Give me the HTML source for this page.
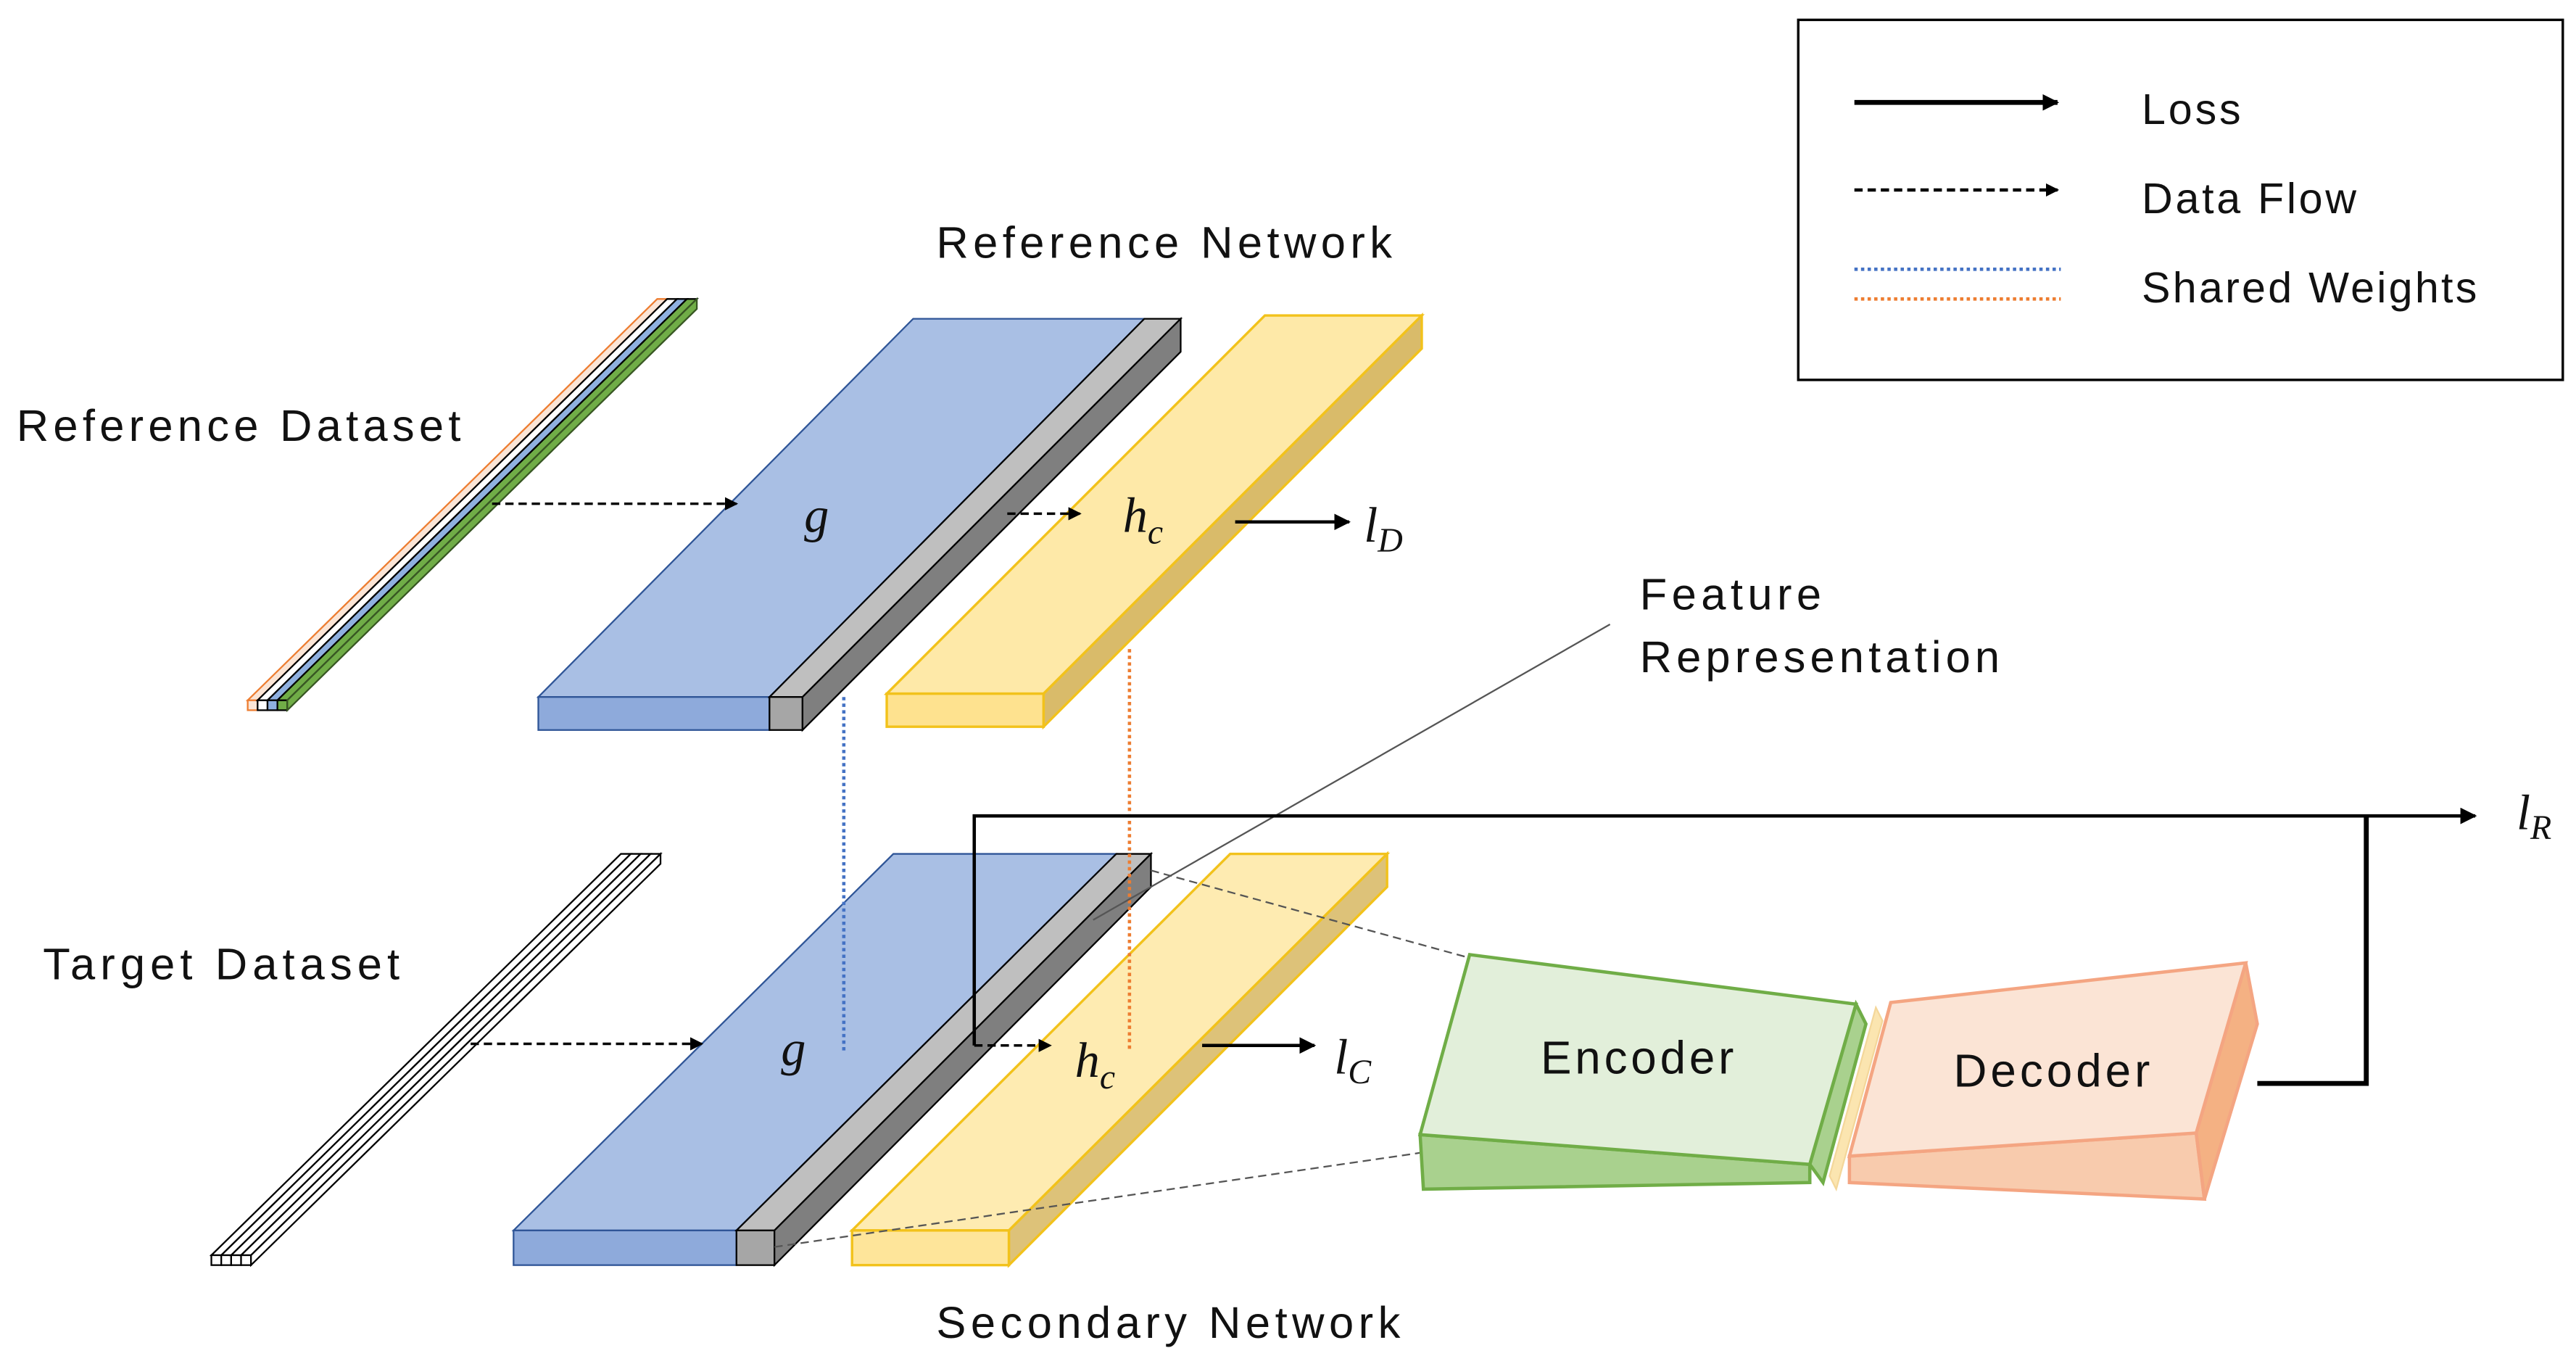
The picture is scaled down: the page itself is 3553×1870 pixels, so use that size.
<!DOCTYPE html>
<html><head><meta charset="utf-8">
<style>
html,body{margin:0;padding:0;background:#fff;}
svg{display:block;}
text{font-family:"Liberation Sans","Noto Sans CJK JP",sans-serif;fill:#111;}
.m{font-family:"Liberation Serif","DejaVu Serif",serif;font-style:italic;}
</style></head>
<body>
<svg width="3553" height="1870" viewBox="0 0 1560 821" xmlns="http://www.w3.org/2000/svg">
<defs>
<marker id="ah" markerWidth="8" markerHeight="8" refX="7" refY="4" orient="auto" markerUnits="userSpaceOnUse">
<path d="M0,0 L8,4 L0,8 z" fill="#000"/></marker>
<marker id="ah2" markerWidth="10" markerHeight="10" refX="9" refY="5" orient="auto" markerUnits="userSpaceOnUse">
<path d="M0,0 L10,5 L0,10 z" fill="#000"/></marker>
</defs>
<rect width="1560" height="821" fill="#fff"/>

<!-- Legend -->
<rect x="1089" y="12" width="463" height="218" fill="#fff" stroke="#000" stroke-width="1.5"/>
<line x1="1123" y1="62" x2="1246" y2="62" stroke="#000" stroke-width="3" marker-end="url(#ah2)"/>
<line x1="1123" y1="115" x2="1246" y2="115" stroke="#000" stroke-width="2" stroke-dasharray="5,3" marker-end="url(#ah)"/>
<line x1="1123" y1="163" x2="1248" y2="163" stroke="#4472c4" stroke-width="2" stroke-dasharray="2,2"/>
<line x1="1123" y1="181" x2="1248" y2="181" stroke="#ed7d31" stroke-width="2" stroke-dasharray="2,2"/>
<text x="1297" y="75" font-size="26" textLength="60">Loss</text>
<text x="1297" y="129" font-size="26" textLength="130">Data Flow</text>
<text x="1297" y="183" font-size="26" textLength="203">Shared Weights</text>

<text x="567" y="156" font-size="27" textLength="276">Reference Network</text>
<text x="10" y="267" font-size="27" textLength="269">Reference Dataset</text>
<text x="26" y="593" font-size="27" textLength="216">Target Dataset</text>
<text x="567" y="810" font-size="27" textLength="281">Secondary Network</text>
<text x="993" y="369" font-size="27" textLength="110">Feature</text>
<text x="993" y="407" font-size="27" textLength="218">Representation</text>

<!-- Reference dataset strips -->
<g stroke-width="1">
<polygon points="150,424 156,424 404,181 398,181" fill="#fbe5d6" stroke="#ed7d31"/>
<rect x="150" y="424" width="6" height="6" fill="#fbe5d6" stroke="#ed7d31"/>
<polygon points="156,424 162,424 410,181 404,181" fill="#fff" stroke="#000"/>
<rect x="156" y="424" width="6" height="6" fill="#fff" stroke="#000"/>
<polygon points="162,424 168,424 416,181 410,181" fill="#8fb0e0" stroke="#000"/>
<rect x="162" y="424" width="6" height="6" fill="#8fb0e0" stroke="#000"/>
<polygon points="168,424 174,424 422,181 416,181" fill="#70ad47" stroke="#000"/>
<rect x="168" y="424" width="6" height="6" fill="#70ad47" stroke="#000"/>
<polygon points="174,430 174,424 422,181 422,187" fill="#70ad47" stroke="#385723"/>
</g>

<!-- Target dataset strips -->
<g stroke="#000" stroke-width="1" fill="#fff">
<polygon points="128,760 134,760 382,517 376,517"/><rect x="128" y="760" width="6" height="6"/>
<polygon points="134,760 140,760 388,517 382,517"/><rect x="134" y="760" width="6" height="6"/>
<polygon points="140,760 146,760 394,517 388,517"/><rect x="140" y="760" width="6" height="6"/>
<polygon points="146,760 152,760 400,517 394,517"/><rect x="146" y="760" width="6" height="6"/>
<polygon points="152,766 152,760 400,517 400,523"/>
</g>

<!-- Top blue slab -->
<polygon points="326,422 466,422 693,193 553,193" fill="#a9bfe4" stroke="#2f5597" stroke-width="1"/>
<rect x="326" y="422" width="140" height="20" fill="#8eaadb" stroke="#2f5597" stroke-width="1"/>
<polygon points="466,422 486,422 715,193 693,193" fill="#bfbfbf" stroke="#000" stroke-width="1"/>
<rect x="466" y="422" width="20" height="20" fill="#a6a6a6" stroke="#000" stroke-width="1"/>
<polygon points="486,442 486,422 715,193 715,213" fill="#7f7f7f" stroke="#000" stroke-width="1"/>

<!-- Top yellow slab -->
<polygon points="537,420 632,420 861,191 766,191" fill="#fee9a8" stroke="#f2c21b" stroke-width="1.5"/>
<rect x="537" y="420" width="95" height="20" fill="#fee28f" stroke="#f2c21b" stroke-width="1.5"/>
<polygon points="632,440 632,420 861,191 861,211" fill="#d9bb6a" stroke="#f2c21b" stroke-width="1.5"/>

<!-- Bottom blue slab -->
<polygon points="311,745 446,745 676,517 541,517" fill="#a9bfe4" stroke="#2f5597" stroke-width="1"/>
<rect x="311" y="745" width="135" height="21" fill="#8eaadb" stroke="#2f5597" stroke-width="1"/>
<polygon points="446,745 469,745 697,517 676,517" fill="#bfbfbf" stroke="#000" stroke-width="1"/>
<rect x="446" y="745" width="23" height="21" fill="#a6a6a6" stroke="#000" stroke-width="1"/>
<polygon points="469,766 469,745 697,517 697,537" fill="#7f7f7f" stroke="#000" stroke-width="1"/>

<!-- Bottom yellow slab -->
<polygon points="516,745 611,745 840,517 745,517" fill="#fee9a8" fill-opacity="0.9" stroke="#f2c21b" stroke-width="1.5"/>
<rect x="516" y="745" width="95" height="21" fill="#fee28f" fill-opacity="0.9" stroke="#f2c21b" stroke-width="1.5"/>
<polygon points="611,766 611,745 840,517 840,537" fill="#d9bb6a" fill-opacity="0.9" stroke="#f2c21b" stroke-width="1.5"/>

<!-- shared weights dotted -->
<line x1="511" y1="422" x2="511" y2="637" stroke="#4472c4" stroke-width="2" stroke-dasharray="2,2"/>
<line x1="684" y1="393" x2="684" y2="637" stroke="#ed7d31" stroke-width="2" stroke-dasharray="2,2"/>

<!-- thin connectors -->
<line x1="975" y1="378" x2="662" y2="557" stroke="#555" stroke-width="1"/>
<line x1="697" y1="527" x2="890" y2="580" stroke="#555" stroke-width="1" stroke-dasharray="5,3"/>
<line x1="469" y1="755" x2="860" y2="698" stroke="#555" stroke-width="1" stroke-dasharray="5,3"/>

<!-- Encoder -->
<polygon points="860,687 1096,705 1096,716 862,720" fill="#a9d18e" stroke="#70ad47" stroke-width="2"/>
<polygon points="1124,608 1130,620 1104,716 1096,705" fill="#a9d18e" stroke="#70ad47" stroke-width="2"/>
<polygon points="890,578 1124,608 1096,705 860,687" fill="#e2efda" stroke="#70ad47" stroke-width="2"/>
<polygon points="1136,610 1140,618 1112,720 1108,712" fill="#fbe5b0" stroke="#f4d79a" stroke-width="1"/>
<!-- Decoder -->
<polygon points="1120,700 1330,686 1335,726 1120,716" fill="#f8cbad" stroke="#f4a582" stroke-width="2"/>
<polygon points="1360,583 1367,620 1335,726 1330,686" fill="#f4b183" stroke="#f4a582" stroke-width="2"/>
<polygon points="1145,607 1360,583 1330,686 1120,700" fill="#fbe4d5" stroke="#f4a582" stroke-width="2"/>
<text x="933" y="650" font-size="28" textLength="117">Encoder</text>
<text x="1183" y="658" font-size="28" textLength="119">Decoder</text>

<!-- Data flow arrows -->
<line x1="298" y1="305" x2="446" y2="305" stroke="#000" stroke-width="1.5" stroke-dasharray="5,3" marker-end="url(#ah)"/>
<line x1="610" y1="311" x2="654" y2="311" stroke="#000" stroke-width="1.5" stroke-dasharray="5,3" marker-end="url(#ah)"/>
<line x1="285" y1="632" x2="425" y2="632" stroke="#000" stroke-width="1.5" stroke-dasharray="5,3" marker-end="url(#ah)"/>
<line x1="590" y1="633" x2="636" y2="633" stroke="#000" stroke-width="1.5" stroke-dasharray="5,3" marker-end="url(#ah)"/>

<!-- Loss arrows -->
<line x1="748" y1="316" x2="817" y2="316" stroke="#000" stroke-width="2" marker-end="url(#ah2)"/>
<line x1="728" y1="633" x2="796" y2="633" stroke="#000" stroke-width="2" marker-end="url(#ah2)"/>
<polyline points="590,633 590,494 1499,494" fill="none" stroke="#000" stroke-width="2" marker-end="url(#ah2)"/>
<polyline points="1367,656 1433,656 1433,494" fill="none" stroke="#000" stroke-width="3"/>

<!-- Math labels -->
<text class="m" x="487" y="322" font-size="30">g</text>
<text class="m" x="473" y="645" font-size="30">g</text>
<text class="m" x="680" y="322" font-size="30">h<tspan font-size="21" dy="7">c</tspan></text>
<text class="m" x="651" y="652" font-size="30">h<tspan font-size="21" dy="7">c</tspan></text>
<text class="m" x="826" y="328" font-size="30">l<tspan font-size="21" dy="6">D</tspan></text>
<text class="m" x="808" y="650" font-size="30">l<tspan font-size="21" dy="6">C</tspan></text>
<text class="m" x="1524" y="502" font-size="30">l<tspan font-size="21" dy="6">R</tspan></text>
</svg>
</body></html>
